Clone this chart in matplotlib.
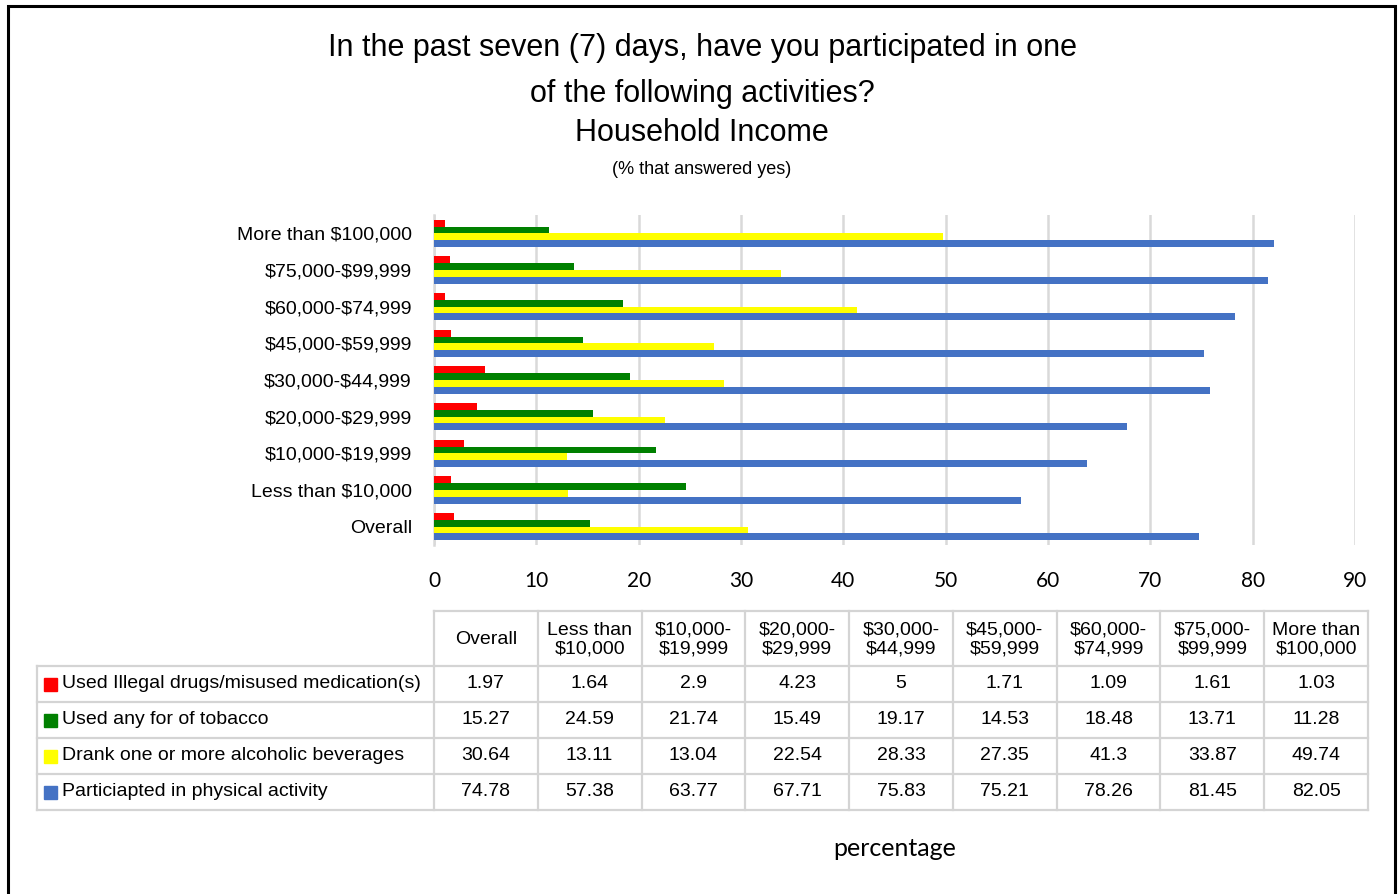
import matplotlib
matplotlib.use("Agg")
import matplotlib.pyplot as plt
import numpy as np
from matplotlib.patches import Rectangle

# ---- data -------------------------------------------------------------------
groups = ["Overall", "Less than $10,000", "$10,000-$19,999", "$20,000-$29,999",
          "$30,000-$44,999", "$45,000-$59,999", "$60,000-$74,999",
          "$75,000-$99,999", "More than $100,000"]
header_labels = ["Overall", "Less than\n$10,000", "$10,000-\n$19,999", "$20,000-\n$29,999",
                 "$30,000-\n$44,999", "$45,000-\n$59,999", "$60,000-\n$74,999",
                 "$75,000-\n$99,999", "More than\n$100,000"]
series_names = ["Used Illegal drugs/misused medication(s)",
                "Used any for of tobacco",
                "Drank one or more alcoholic beverages",
                "Particiapted in physical activity"]
drugs = [1.97, 1.64, 2.9, 4.23, 5, 1.71, 1.09, 1.61, 1.03]
tobacco = [15.27, 24.59, 21.74, 15.49, 19.17, 14.53, 18.48, 13.71, 11.28]
alcohol = [30.64, 13.11, 13.04, 22.54, 28.33, 27.35, 41.3, 33.87, 49.74]
physical = [74.78, 57.38, 63.77, 67.71, 75.83, 75.21, 78.26, 81.45, 82.05]
series = [drugs, tobacco, alcohol, physical]
colors = ["#FF0000", "#008000", "#FFFF00", "#4472C4"]

NARROW = ["Liberation Sans Narrow", "Liberation Sans", "DejaVu Sans"]
CAL = ["Lato", "DejaVu Sans"]
plt.rcParams["font.family"] = NARROW
plt.rcParams["text.parse_math"] = False  # dollar signs are literal

W, H = 1400, 894
fig = plt.figure(figsize=(W / 100, H / 100), dpi=100)
fig.patch.set_facecolor("white")

# ---- bar chart ----------------------------------------------------------------
x0, x1, y0, y1 = 434, 1355, 215, 545
ax = fig.add_axes([x0 / W, 1 - y1 / H, (x1 - x0) / W, (y1 - y0) / H])
ypos = np.arange(len(groups))
bh = 0.185
offsets = [1.5, 0.5, -0.5, -1.5]
for vals, col, off in zip(series, colors, offsets):
    ax.barh(ypos + off * bh, vals, height=bh, color=col, zorder=3)

ax.set_xlim(0, 90)
ax.set_ylim(-0.5, len(groups) - 0.5)
ax.set_xticks(np.arange(0, 91, 10))
ax.set_yticks(ypos)
ax.set_yticklabels(groups, fontsize=14)
ax.tick_params(axis="x", length=0, pad=19, labelsize=15)
ax.tick_params(axis="y", length=0, pad=16)
for lab in ax.get_xticklabels():
    lab.set_family(CAL)
ax.grid(axis="x", color="#d9d9d9", lw=1.8, zorder=0)
for s in ["top", "right", "bottom"]:
    ax.spines[s].set_visible(False)
ax.spines["left"].set_color("#d9d9d9")
ax.spines["left"].set_linewidth(1.8)

# ---- overlay in pixel coordinates: titles, data table, frame ------------------
ov = fig.add_axes([0, 0, 1, 1], zorder=-1)
ov.set_xlim(0, W)
ov.set_ylim(H, 0)
ov.axis("off")

ov.text(702, 48, "In the past seven (7) days, have you participated in one",
        ha="center", va="center", fontsize=22)
ov.text(702, 94, "of the following activities?", ha="center", va="center", fontsize=22)
ov.text(702, 133, "Household Income", ha="center", va="center", fontsize=22)
ov.text(702, 170, "(% that answered yes)", ha="center", va="center", fontsize=13)

# data table
col_edges = np.linspace(434, 1368, len(groups) + 1)
row_edges = [611, 666, 702, 738, 774, 810]
grid_col = "#d4d4d4"
lw = 1.6
left = 37
ov.plot([col_edges[0], col_edges[-1]], [row_edges[0]] * 2, color=grid_col, lw=lw)
for r in row_edges[1:]:
    ov.plot([left, col_edges[-1]], [r, r], color=grid_col, lw=lw)
for c in col_edges:
    ov.plot([c, c], [row_edges[0], row_edges[-1]], color=grid_col, lw=lw)
ov.plot([left, left], [row_edges[1], row_edges[-1]], color=grid_col, lw=lw)

for j, lab in enumerate(header_labels):
    cx = (col_edges[j] + col_edges[j + 1]) / 2
    ov.text(cx, (row_edges[0] + row_edges[1]) / 2 + 1, lab, ha="center", va="center",
            fontsize=14, linespacing=1.1)

for i, (name, vals, col) in enumerate(zip(series_names, series, colors)):
    cy = (row_edges[i + 1] + row_edges[i + 2]) / 2
    ov.add_patch(Rectangle((44, cy - 6.5), 13, 13, color=col))
    ov.text(62, cy, name, ha="left", va="center", fontsize=14)
    for j, v in enumerate(vals):
        cx = (col_edges[j] + col_edges[j + 1]) / 2
        ov.text(cx, cy, f"{v:g}", ha="center", va="center", fontsize=14)

ov.text(895, 848, "percentage", ha="center", va="center", fontsize=18, family=CAL)

# outer frame
ov.plot([8, 8, 1395, 1395], [H + 5, 6, 6, H + 5], color="black", lw=2.2,
        solid_joinstyle="miter")

fig.savefig("out.png", dpi=100, facecolor="white")
